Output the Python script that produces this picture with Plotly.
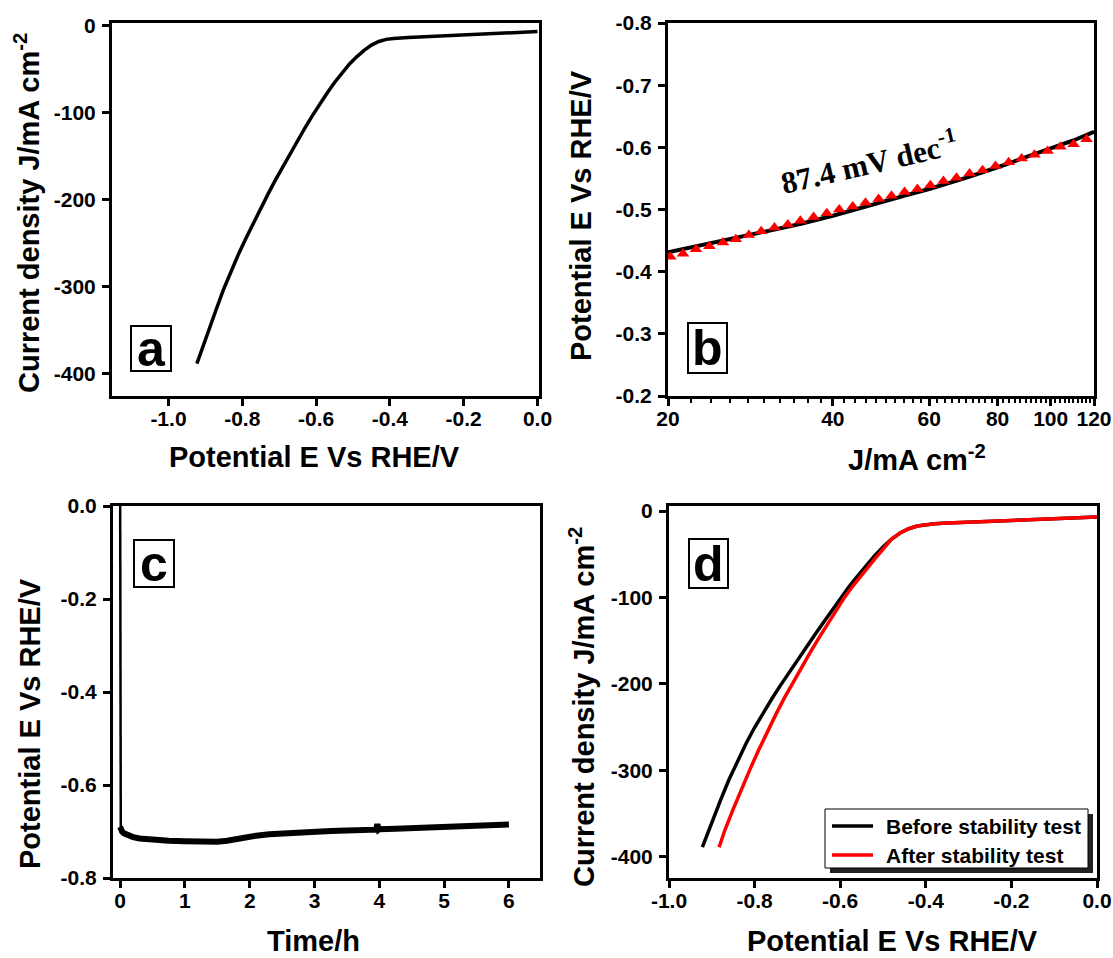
import plotly.graph_objects as go

# ---------------- data ----------------
# (a) polarization curve: potential (V vs RHE) and current density (mA cm^-2)
E_a = [-0.923, -0.91, -0.89, -0.87, -0.85, -0.83, -0.81, -0.79, -0.77, -0.75,
       -0.73, -0.71, -0.69, -0.67, -0.65, -0.63, -0.61, -0.59, -0.57, -0.55,
       -0.53, -0.51, -0.49, -0.47, -0.45, -0.43, -0.41, -0.39, -0.35, -0.30,
       -0.20, -0.10, 0.0]
J_a = [-388, -372, -348, -325, -302, -281, -262, -244, -226.5, -209.5,
       -193, -177, -161.5, -146.5, -131.5, -117, -103, -89.5, -77, -65,
       -54, -44, -35.5, -28, -22, -17.8, -15.4, -14.3, -13.3, -12.4,
       -10.6, -8.6, -6.5]

# (b) Tafel plot: measured curve and fitted points
J_tafel = [20, 22, 25, 28, 30, 35, 40, 45, 50, 55, 60, 65, 70, 80, 90, 100, 110, 120]
E_tafel = [-0.431, -0.439, -0.449, -0.459, -0.464, -0.477, -0.490, -0.502, -0.513,
           -0.524, -0.533, -0.542, -0.551, -0.568, -0.584, -0.598, -0.611, -0.625]
J_fit = [20.2, 21.3, 22.5, 23.8, 25.2, 26.6, 28.1, 29.6, 31.3, 33.1, 34.9, 36.9,
         39.0, 41.1, 43.5, 45.9, 48.5, 51.2, 54.1, 57.1, 60.3, 63.7, 67.3, 71.1,
         75.1, 79.3, 83.8, 88.5, 93.4, 98.7, 104.2, 110.1, 116.3]
E_fit = [-0.424, -0.429, -0.436, -0.441, -0.447, -0.452, -0.459, -0.465, -0.471,
         -0.476, -0.482, -0.488, -0.494, -0.500, -0.505, -0.511, -0.517, -0.522,
         -0.528, -0.533, -0.539, -0.546, -0.551, -0.558, -0.563, -0.570, -0.576,
         -0.582, -0.588, -0.594, -0.601, -0.605, -0.613]
tafel_slope = "87.4 mV dec<sup>-1</sup>"

# (c) chronopotentiometry: time (h) and potential (V vs RHE)
t_c = [0.0, 0.0, 0.01, 0.03, 0.06, 0.1, 0.2, 0.3, 0.5, 0.75, 1.0, 1.25, 1.5, 1.65,
       1.8, 1.95, 2.1, 2.3, 2.5, 2.75, 3.0, 3.25, 3.5, 3.75, 3.95, 3.97, 3.99, 4.0,
       4.25, 4.5, 4.75, 5.0, 5.25, 5.5, 5.75, 6.0]
E_c = [0.05, -0.690, -0.695, -0.700, -0.704, -0.707, -0.712, -0.715, -0.718, -0.720,
       -0.721, -0.722, -0.722, -0.720, -0.716, -0.712, -0.709, -0.706, -0.704, -0.702,
       -0.701, -0.699, -0.698, -0.697, -0.696, -0.684, -0.696, -0.695, -0.694, -0.693,
       -0.692, -0.691, -0.690, -0.689, -0.687, -0.685]

# (d) polarization curves before / after the stability test
E_before = [-0.922, -0.90, -0.88, -0.86, -0.84, -0.82, -0.80, -0.78, -0.76, -0.74,
            -0.72, -0.70, -0.68, -0.66, -0.64, -0.62, -0.598, -0.58, -0.56, -0.54,
            -0.52, -0.50, -0.48, -0.46, -0.44, -0.42, -0.40, -0.38, -0.35, -0.30,
            -0.20, -0.10, 0.0]
J_before = [-389, -360, -335, -311, -289, -269, -250.5, -233.5, -217.5, -202,
            -187, -172.5, -158, -143.8, -129.6, -115.5, -100, -88, -75.5, -63.5,
            -52, -41.5, -32.5, -25.5, -20.5, -17.3, -15.6, -14.7, -14.0, -13.0,
            -11.0, -9.0, -7.0]
E_after = [-0.883, -0.87, -0.85, -0.83, -0.81, -0.79, -0.77, -0.75, -0.73, -0.71,
           -0.69, -0.67, -0.65, -0.63, -0.61, -0.59, -0.57, -0.55, -0.53, -0.52,
           -0.51, -0.50, -0.49, -0.48, -0.46, -0.44, -0.42, -0.40, -0.38, -0.35,
           -0.30, -0.20, -0.10, 0.0]
J_after = [-389, -370, -345, -321, -298, -276, -255, -235, -216, -198,
           -180.5, -163.5, -147, -131, -115.5, -100, -86.5, -73.5, -62, -56,
           -50, -44, -37.5, -32.5, -25.5, -20.5, -17.3, -15.6, -14.7, -14.0,
           -13.0, -11.0, -9.0, -7.0]
legend_names = ["Before stability test", "After stability test"]
legend_colors = ["black", "#ff0000"]

# tick labels
pot_ticks_a = [-1.0, -0.8, -0.6, -0.4, -0.2, 0.0]
pot_ticks_d = [-1.0, -0.8, -0.6, -0.4, -0.2, 0.0]
j_ticks = [0, -100, -200, -300, -400]
tafel_xticks = [20, 40, 60, 80, 100, 120]
tafel_minor = list(range(20, 121, 2))
tafel_yticks = [-0.8, -0.7, -0.6, -0.5, -0.4, -0.3, -0.2]
time_ticks = [0, 1, 2, 3, 4, 5, 6]
stab_yticks = [0.0, -0.2, -0.4, -0.6, -0.8]

# ---------------- layout helpers ----------------
W, H = 1113, 958
SANS = "Liberation Sans"
SERIF = "Liberation Serif"
TICKFONT = dict(family=SANS, size=21, color="black", weight="bold")


def px_x(p):
    return p / W


def px_y(p):
    return 1 - p / H


def lab(vals, fmt):
    return ["<b>" + fmt.format(v) + "</b>" for v in vals]


def axis(domain, anchor, standoff, **kw):
    base = dict(domain=domain, anchor=anchor, showline=True, linewidth=3,
                linecolor="black", mirror=True, ticks="outside", ticklen=7,
                tickwidth=2.5, tickcolor="black", showgrid=False, zeroline=False,
                tickfont=TICKFONT, tickmode="array", automargin=False,
                ticklabelstandoff=standoff)
    base.update(kw)
    return base


XS, YS = -5, 2  # tick label standoffs for x and y axes

dom_ax = [px_x(112), px_x(539)]
dom_bx = [px_x(668), px_x(1094)]
dom_cx = [px_x(113), px_x(540)]
dom_dx = [px_x(669), px_x(1097)]
dom_top = [px_y(396), px_y(23)]
dom_bot = [px_y(878), px_y(506)]

fig = go.Figure()

# (a)
fig.add_trace(go.Scatter(x=E_a, y=J_a, mode="lines", xaxis="x", yaxis="y",
                         line=dict(color="black", width=3.5), showlegend=False))
# (b)
fig.add_trace(go.Scatter(x=J_tafel, y=E_tafel, mode="lines", xaxis="x2", yaxis="y2",
                         line=dict(color="black", width=4), showlegend=False))
fig.add_trace(go.Scatter(x=J_fit, y=E_fit, mode="markers", xaxis="x2", yaxis="y2",
                         marker=dict(symbol="triangle-up", size=11, color="#ff0000",
                                     line=dict(width=0)), showlegend=False))
# (c) initial potential drop drawn thin, the long plateau drawn as a heavy band
fig.add_trace(go.Scatter(x=t_c[:3], y=E_c[:3], mode="lines", xaxis="x3", yaxis="y3",
                         line=dict(color="black", width=2.5), showlegend=False))
fig.add_trace(go.Scatter(x=t_c[1:], y=E_c[1:], mode="lines", xaxis="x3", yaxis="y3",
                         line=dict(color="black", width=6), showlegend=False))
# (d)
fig.add_trace(go.Scatter(x=E_before, y=J_before, mode="lines", xaxis="x4", yaxis="y4",
                         name=legend_names[0], showlegend=False,
                         line=dict(color=legend_colors[0], width=3.5)))
fig.add_trace(go.Scatter(x=E_after, y=J_after, mode="lines", xaxis="x4", yaxis="y4",
                         name=legend_names[1], showlegend=False,
                         line=dict(color=legend_colors[1], width=3.5)))

fig.update_layout(
    template="none",
    width=W, height=H, margin=dict(l=0, r=0, t=0, b=0, pad=0),
    paper_bgcolor="white", plot_bgcolor="white",
    font=dict(family=SANS, color="black"),
    showlegend=False,
    xaxis=axis(dom_ax, "y", XS, range=[-1.153, 0.004], tickvals=pot_ticks_a,
               ticktext=lab(pot_ticks_a, "{:.1f}")),
    yaxis=axis(dom_top, "x", YS, range=[-425.3, 3.4], tickvals=j_ticks,
               ticktext=lab(j_ticks, "{:d}")),
    xaxis2=axis(dom_bx, "y2", XS, type="log", range=[1.30103, 2.07918],
                tickvals=tafel_xticks, ticktext=lab(tafel_xticks, "{:d}"),
                minor=dict(tickmode="array", tickvals=tafel_minor, ticks="outside",
                           ticklen=4, tickwidth=1.5, tickcolor="black")),
    yaxis2=axis(dom_top, "x2", YS, range=[-0.2, -0.8], tickvals=tafel_yticks,
                ticktext=lab(tafel_yticks, "{:.1f}")),
    xaxis3=axis(dom_cx, "y3", XS, range=[-0.11, 6.48], tickvals=time_ticks,
                ticktext=lab(time_ticks, "{:d}")),
    yaxis3=axis(dom_bot, "x3", YS, range=[-0.8, 0.0], tickvals=stab_yticks,
                ticktext=lab(stab_yticks, "{:.1f}")),
    xaxis4=axis(dom_dx, "y4", XS, range=[-1.0, 0.0], tickvals=pot_ticks_d,
                ticktext=lab(pot_ticks_d, "{:.1f}")),
    yaxis4=axis(dom_bot, "x4", YS, range=[-424.6, 5.8], tickvals=j_ticks,
                ticktext=lab(j_ticks, "{:d}")),
)

TITLE = dict(family=SANS, size=29, color="black", weight="bold")
annotations = [
    # axis titles
    dict(x=px_x(27), y=px_y(213), text="Current density J/mA cm<sup>-2</sup>", textangle=-90),
    dict(x=px_x(314), y=px_y(457), text="Potential E Vs RHE/V"),
    dict(x=px_x(581), y=px_y(216), text="Potential E Vs RHE/V", textangle=-90),
    dict(x=px_x(917), y=px_y(458), text="J/mA cm<sup>-2</sup>"),
    dict(x=px_x(30), y=px_y(724), text="Potential E Vs RHE/V", textangle=-90),
    dict(x=px_x(313), y=px_y(941), text="Time/h"),
    dict(x=px_x(582), y=px_y(707), text="Current density J/mA cm<sup>-2</sup>", textangle=-90),
    dict(x=px_x(892), y=px_y(941), text="Potential E Vs RHE/V"),
]
for a in annotations:
    a.update(xref="paper", yref="paper", showarrow=False, font=TITLE,
             xanchor="center", yanchor="middle")

# slope annotation in panel b
annotations.append(dict(x=px_x(869), y=px_y(162), xref="paper", yref="paper",
                        xanchor="center", yanchor="middle",
                        text="<b>" + tafel_slope + "</b>", showarrow=False,
                        textangle=-13, font=dict(family=SERIF, size=31, color="black")))

# boxed panel letters
panel_boxes = {"a": (131, 326, 171, 371), "b": (688, 323, 727, 373),
               "c": (134, 540, 174, 587), "d": (689, 539, 728, 588)}
shapes = []
for letter, (x0, y0, x1, y1) in panel_boxes.items():
    shapes.append(dict(type="rect", xref="paper", yref="paper",
                       x0=px_x(x0), x1=px_x(x1), y0=px_y(y1), y1=px_y(y0),
                       line=dict(color="black", width=2), fillcolor="white", layer="above"))
    annotations.append(dict(x=px_x((x0 + x1) / 2), y=px_y((y0 + y1) / 2),
                            xref="paper", yref="paper", text=letter, showarrow=False,
                            xanchor="center", yanchor="middle",
                            font=dict(family=SANS, size=50, color="black", weight="bold")))

# legend for panel d: drop shadow, framed box, line samples and labels
lg_x0, lg_y0, lg_x1, lg_y1 = 825, 809, 1088, 868
shapes.append(dict(type="rect", xref="paper", yref="paper",
                   x0=px_x(lg_x0 + 5), x1=px_x(lg_x1 + 5), y0=px_y(lg_y1 + 5), y1=px_y(lg_y0 + 5),
                   line=dict(width=0), fillcolor="#222222", layer="above"))
shapes.append(dict(type="rect", xref="paper", yref="paper",
                   x0=px_x(lg_x0), x1=px_x(lg_x1), y0=px_y(lg_y1), y1=px_y(lg_y0),
                   line=dict(color="black", width=1), fillcolor="white", layer="above"))
for i, (name, color) in enumerate(zip(legend_names, legend_colors)):
    row_y = 826 + 29 * i
    shapes.append(dict(type="line", xref="paper", yref="paper",
                       x0=px_x(832), x1=px_x(873), y0=px_y(row_y), y1=px_y(row_y),
                       line=dict(color=color, width=3.5), layer="above"))
    annotations.append(dict(x=px_x(884), y=px_y(row_y), xref="paper", yref="paper",
                            text=name, showarrow=False, xanchor="left", yanchor="middle",
                            font=dict(family=SANS, size=21, color="black", weight="bold")))

fig.update_layout(annotations=annotations, shapes=shapes)
fig.write_html("out.html")
